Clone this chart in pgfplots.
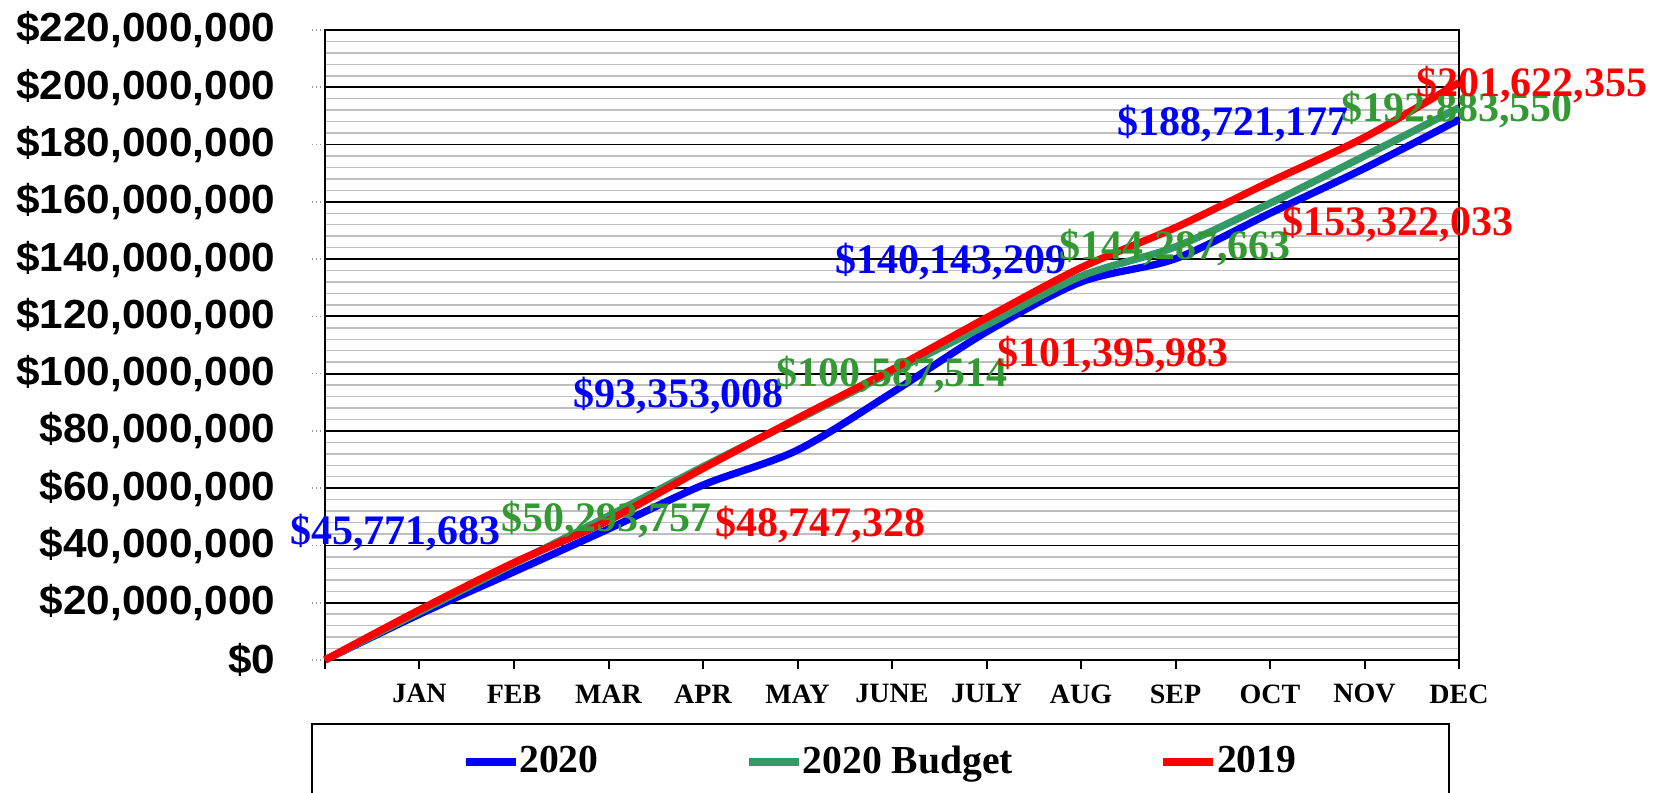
\documentclass[border=0pt]{standalone}
\usepackage{fontspec}
\setmainfont{Liberation Serif}
\newfontfamily\arialb{Liberation Sans}[FakeStretch=1.04]
\usepackage{pgfplots}
\usepackage{pgfplotstable}
\pgfplotsset{compat=1.18}
\definecolor{budgetline}{RGB}{51,153,102}
\definecolor{budgettext}{RGB}{51,153,51}

% values in millions of dollars
\pgfplotstableread{
m y2020 budget y2019
0 0 0 0
1 16.0 16.8 17.5
2 30.8 33.6 34.0
3 45.771683 50.293757 48.747328
4 61.1 67.5 66.9
5 73.3 84.0 84.4
6 93.353008 100.587514 101.395983
7 114.6 117.0 119.5
8 132.0 134.0 137.0
9 140.143209 144.287663 151.0
10 156.0 159.5 167.0
11 171.7 176.0 182.5
12 188.721177 192.883550 201.622355
}\data

\begin{document}
\begin{tikzpicture}
\begin{axis}[
  scale only axis,
  width=340.2pt, height=189pt,
  xmin=0, xmax=12, ymin=0, ymax=220,
  xtick={0,...,12},
  xticklabels={,JAN,FEB,MAR,APR,MAY,JUNE,JULY,AUG,SEP,OCT,NOV,DEC},
  ytick={0,20,...,220},
  yticklabels={{\$0},{\$20,000,000},{\$40,000,000},{\$60,000,000},{\$80,000,000},{\$100,000,000},{\$120,000,000},{\$140,000,000},{\$160,000,000},{\$180,000,000},{\$200,000,000},{\$220,000,000}},
  minor y tick num=4,
  ymajorgrids, yminorgrids,
  major grid style={black, line width=0.55pt},
  minor grid style={black!25, line width=0.45pt},
  tick align=outside, xtick pos=bottom, ytick pos=left,
  xtick style={black, line width=0.6pt, /pgfplots/major tick length=2.6pt},
  ytick style={black!40, densely dotted, line width=0.5pt, /pgfplots/major tick length=3.9pt},
  minor tick length=0pt,
  axis line style={black, line width=0.6pt},
  yticklabel style={font=\arialb\bfseries\fontsize{12.2}{14}\selectfont, inner sep=0pt, xshift=-10.5pt},
  xticklabel style={font=\bfseries\fontsize{8.4}{10}\selectfont, inner sep=0pt, anchor=center, yshift=-5.9pt},
  clip=false,
  legend columns=3,
  legend style={draw=none, fill=none, at={(0,0)}, anchor=west, xshift=40.9pt, yshift=-30.6pt,
    inner sep=0pt, font=\bfseries\fontsize{11.9}{13}\selectfont,
    nodes={inner sep=0pt},
    /tikz/every even column/.append style={column sep=44pt}},
  legend image code/.code={\path (0pt,0pt) -- (15pt,0pt);
    \draw[#1, line width=2.4pt, line cap=round] (1.2pt,0pt) -- (13.3pt,0pt);},
]
\addplot[blue, line width=2.2pt, smooth] table[x=m, y=y2020]{\data};
\addlegendentry{2020}
\addplot[budgetline, line width=2.2pt, smooth] table[x=m, y=budget]{\data};
\addlegendentry{2020 Budget}
\addplot[red, line width=2.2pt, smooth] table[x=m, y=y2019]{\data};
\addlegendentry{2019}

\begin{scope}[every node/.style={font=\bfseries\fontsize{12.6}{14}\selectfont, anchor=base, inner sep=0pt}]
\node[text=blue] at (axis cs:0.746,40.2) {\$45,771,683};
\node[text=budgettext] at (axis cs:2.98,44.8) {\$50,293,757};
\node[text=red] at (axis cs:5.24,43.1) {\$48,747,328};
\node[text=blue] at (axis cs:3.746,88.1) {\$93,353,008};
\node[text=budgettext] at (axis cs:6.0,95.4) {\$100,587,514};
\node[text=red] at (axis cs:8.34,102.4) {\$101,395,983};
\node[text=blue] at (axis cs:6.62,135.0) {\$140,143,209};
\node[text=budgettext] at (axis cs:8.995,139.7) {\$144,287,663};
\node[text=red] at (axis cs:11.35,148.4) {\$153,322,033};
\node[text=blue] at (axis cs:9.61,183.3) {\$188,721,177};
\node[text=budgettext] at (axis cs:11.98,188.0) {\$192,883,550};
\node[text=red] at (axis cs:12.77,196.7) {\$201,622,355};
\end{scope}
\end{axis}
\draw[line width=0.6pt] (-3.9pt,-48pt) -- (-3.9pt,-19.2pt) -- (337.2pt,-19.2pt) -- (337.2pt,-48pt);
\pgfresetboundingbox
\useasboundingbox (-97.5pt,-39.9pt) rectangle (402.6pt,198pt);
\end{tikzpicture}
\end{document}
